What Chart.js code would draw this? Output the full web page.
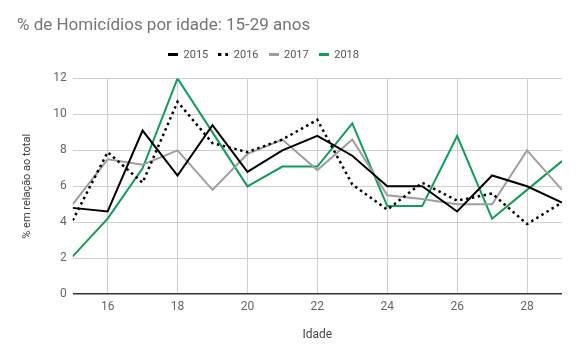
<!DOCTYPE html>
<html>
<head>
<meta charset="utf-8">
<script src="https://cdn.jsdelivr.net/npm/chart.js@4/dist/chart.umd.min.js"></script>
<style>
    html, body { margin: 0; padding: 0; background: #ffffff; }
    #wrap { width: 580px; height: 358px; position: relative; }
</style>
</head>
<body>
<div id="wrap"><canvas id="homicidiosChart"></canvas></div>
<script>
// Idades (eixo x) e percentuais por ano
const ages = [15, 16, 17, 18, 19, 20, 21, 22, 23, 24, 25, 26, 27, 28, 29];
const xTicks = [16, 18, 20, 22, 24, 26, 28];
const values2015 = [4.8, 4.6, 9.1, 6.6, 9.4, 6.8, 8.0, 8.8, 7.7, 6.0, 6.0, 4.6, 6.6, 6.0, 5.1];
const values2016 = [4.1, 7.9, 6.2, 10.7, 8.4, 7.9, 8.6, 9.7, 6.1, 4.7, 6.2, 5.2, 5.6, 3.9, 5.1];
const values2017 = [5.0, 7.5, 7.2, 8.0, 5.8, 7.8, 8.6, 6.9, 8.6, 5.5, 5.3, 5.0, 5.0, 8.0, 5.8];
const values2018 = [2.1, 4.2, 7.0, 12.0, 9.0, 6.0, 7.1, 7.1, 9.5, 4.9, 4.9, 8.8, 4.2, 5.8, 7.4];

const FONT = 'Roboto, "Noto Sans", sans-serif';

// small legend markers (solid bar / two dots)
function legendMark(color, dotted) {
    const c = document.createElement('canvas');
    c.width = 10;
    c.height = 3;
    const g = c.getContext('2d');
    g.fillStyle = color;
    if (dotted) {
        g.fillRect(0, 0, 3, 3);
        g.fillRect(7, 0, 3, 3);
    } else {
        g.fillRect(0, 0, 10, 3);
    }
    return c;
}

function toPoints(vals) {
    return ages.map((a, i) => ({ x: a, y: vals[i] }));
}

// legend sits a bit left of centre and leaves extra room below it
const legendTweak = {
    id: 'legendTweak',
    afterInit(chart) {
        const legend = chart.legend;
        const origFit = legend.fit;
        legend.fit = function () {
            origFit.call(this);
            this.height += 8;
        };
    },
    afterLayout(chart) {
        chart.legend.left -= 26;
        chart.legend.right -= 26;
    }
};

document.addEventListener('DOMContentLoaded', function () {
    const ctx = document.getElementById('homicidiosChart').getContext('2d');

    new Chart(ctx, {
        type: 'line',
        data: {
            datasets: [
                {
                    label: '2015',
                    data: toPoints(values2015),
                    borderColor: '#000000',
                    borderWidth: 2,
                    pointStyle: legendMark('#000000', false)
                },
                {
                    label: '2016',
                    data: toPoints(values2016),
                    borderColor: '#000000',
                    borderWidth: 2.5,
                    borderDash: [2.5, 3.5],
                    pointStyle: legendMark('#000000', true)
                },
                {
                    label: '2017',
                    data: toPoints(values2017),
                    borderColor: '#9e9e9e',
                    borderWidth: 2,
                    pointStyle: legendMark('#9e9e9e', false)
                },
                {
                    label: '2018',
                    data: toPoints(values2018),
                    borderColor: '#0f9d58',
                    borderWidth: 2,
                    pointStyle: legendMark('#0f9d58', false)
                }
            ]
        },
        options: {
            responsive: true,
            maintainAspectRatio: false,
            animation: false,
            layout: { padding: { left: 17, right: 18, top: 4, bottom: 12 } },
            elements: {
                point: { radius: 0, hoverRadius: 0 },
                line: { tension: 0, fill: false }
            },
            scales: {
                x: {
                    type: 'linear',
                    min: 15,
                    max: 29,
                    afterBuildTicks: function (axis) {
                        axis.ticks = xTicks.map(v => ({ value: v }));
                    },
                    grid: { color: '#d0d0d0', drawTicks: false },
                    border: { display: false },
                    ticks: { color: '#666666', font: { family: FONT, size: 12 }, padding: 6 },
                    title: {
                        display: true,
                        text: 'Idade',
                        color: '#444444',
                        font: { family: FONT, size: 12 },
                        padding: { top: 7 }
                    }
                },
                y: {
                    min: 0,
                    max: 12,
                    ticks: { stepSize: 2, color: '#666666', font: { family: FONT, size: 12 }, padding: 6 },
                    grid: {
                        drawTicks: false,
                        color: ctx => ctx.tick.value === 0 ? '#333333' : '#d0d0d0',
                        lineWidth: ctx => ctx.tick.value === 0 ? 1.5 : 1
                    },
                    border: { display: false },
                    title: {
                        display: true,
                        text: '% em relação ao total',
                        color: '#444444',
                        font: { family: FONT, size: 11 },
                        padding: { bottom: 13 }
                    }
                }
            },
            plugins: {
                title: {
                    display: true,
                    text: '% de Homicídios por idade: 15-29 anos',
                    align: 'start',
                    color: '#757575',
                    font: { family: FONT, size: 17, weight: 'normal' },
                    padding: { top: 12, bottom: 3 }
                },
                legend: {
                    display: true,
                    position: 'top',
                    labels: {
                        usePointStyle: true,
                        pointStyleWidth: 10,
                        color: '#555555',
                        font: { family: FONT, size: 11 },
                        padding: 10
                    }
                },
                tooltip: { enabled: false }
            }
        },
        plugins: [legendTweak]
    });
});
</script>
</body>
</html>
